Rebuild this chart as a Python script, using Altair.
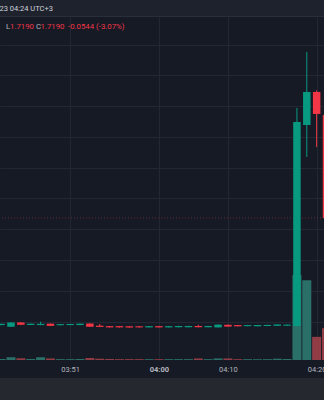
import altair as alt
import pandas as pd

# ---------------- data ----------------
idx = list(range(-1, 33))
opens = [0.977, 0.966, 0.994, 0.978, 0.977, 0.986, 0.976, 0.977, 0.977, 0.987,
         0.973, 0.970, 0.970, 0.969, 0.969, 0.962, 0.970, 0.962, 0.963, 0.963,
         0.971, 0.963, 0.962, 0.979, 0.977, 0.970, 0.970, 0.971, 0.972, 0.973,
         0.971, 2.277, 2.492, 2.342]
highs = [0.987, 0.996, 0.996, 0.987, 0.999, 0.987, 0.984, 0.985, 0.987, 0.988,
         0.984, 0.971, 0.971, 0.970, 0.970, 0.971, 0.971, 0.971, 0.972, 0.972,
         0.979, 0.972, 0.981, 0.980, 0.978, 0.978, 0.978, 0.979, 0.982, 0.981,
         2.388, 2.752, 2.502, 2.345]
lows = [0.975, 0.964, 0.977, 0.977, 0.976, 0.970, 0.975, 0.976, 0.976, 0.965,
        0.964, 0.961, 0.961, 0.960, 0.961, 0.961, 0.961, 0.961, 0.962, 0.962,
        0.962, 0.962, 0.961, 0.966, 0.968, 0.969, 0.969, 0.970, 0.971, 0.972,
        0.969, 2.069, 2.134, 1.673]
closes = [0.985, 0.994, 0.979, 0.986, 0.985, 0.972, 0.983, 0.984, 0.986, 0.966,
          0.965, 0.962, 0.962, 0.961, 0.962, 0.970, 0.962, 0.970, 0.971, 0.971,
          0.963, 0.971, 0.980, 0.967, 0.969, 0.977, 0.977, 0.978, 0.981, 0.980,
          2.297, 2.492, 2.349, 1.673]
volumes = [1200, 3200, 2000, 1200, 3200, 1800, 1000, 1000, 1200, 2300,
           1500, 1200, 1000, 1000, 1000, 1000, 1000, 1000, 1000, 1000,
           1800, 1000, 1800, 1800, 1000, 1000, 1000, 1000, 1500, 1200,
           99000, 93000, 27000, 37000]

tick_idx = [6, 15, 22, 31]
tick_lbl = ["03:51", "04:00", "04:10", "04:20"]
bold_ticks = [15]
grid_prices = [1.0, 1.2, 1.4, 1.6, 1.8, 2.0, 2.2, 2.4, 2.6, 2.8]
last_price = [1.673]

header_text = "23 04:24 UTC+3"
legend_parts = ["L", "1.7190", "C", "1.7190", "-0.0544 (-3.07%)"]

# ---------------- style ----------------
BG = "#161a25"
HEADER = "#1e222d"
BOTTOM = "#25282f"
GRID = "#232734"
GREEN = "#089981"
RED = "#f23645"
VGREEN = "#2a7069"
VRED = "#923c46"
TEXT = "#b2b5be"
FONT = "Roboto"

W, H = 324, 343

df = pd.DataFrame(dict(i=idx, open=opens, high=highs, low=lows,
                       close=closes, volume=volumes))

label_expr = "''"
for t, l in zip(reversed(tick_idx), reversed(tick_lbl)):
    label_expr = f"datum.value == {t} ? '{l}' : ({label_expr})"
bold_test = " || ".join(f"datum.value == {b}" for b in bold_ticks)

x_axis = alt.Axis(values=tick_idx, labelExpr=label_expr, title=None,
                  grid=True, gridColor=GRID, gridWidth=1,
                  ticks=False, tickSize=0, domain=False,
                  labelColor=TEXT, labelFont=FONT, labelFontSize=7.5,
                  labelFontWeight={"condition": {"test": bold_test, "value": "bold"},
                                   "value": "normal"},
                  labelBaseline="middle", labelPadding=9.5,
                  labelFlush=False, labelOverlap=False, labelBound=False)
x_scale = alt.Scale(domain=[-1.1156, 31.745], nice=False, zero=False, padding=0)
X = alt.X("i:Q", scale=x_scale, axis=x_axis)

price_scale = alt.Scale(domain=[0.75, 2.979], nice=False, zero=False)
price_axis = alt.Axis(values=grid_prices, grid=True, gridColor=GRID, gridWidth=1,
                      labels=False, ticks=False, domain=False, title=None)

up = "datum.close >= datum.open"

vol = alt.Chart(df).mark_bar(size=9).encode(
    x=X,
    y=alt.Y("volume:Q", scale=alt.Scale(domain=[0, 400000], nice=False), axis=None),
    color=alt.condition(up, alt.value(VGREEN), alt.value(VRED)),
)

pline = alt.Chart(pd.DataFrame({"p": last_price})).mark_rule(
    color="#a0303d", strokeDash=[1, 2], opacity=0.6, strokeWidth=1
).encode(y=alt.Y("p:Q", scale=price_scale, axis=price_axis))

wick = alt.Chart(df).mark_rule(strokeWidth=1).encode(
    x=X,
    y=alt.Y("low:Q", scale=price_scale, axis=price_axis),
    y2="high:Q",
    color=alt.condition(up, alt.value(GREEN), alt.value(RED)),
)
body = alt.Chart(df).mark_bar(size=7.5).encode(
    x=X,
    y=alt.Y("open:Q", scale=price_scale, axis=price_axis),
    y2="close:Q",
    color=alt.condition(up, alt.value(GREEN), alt.value(RED)),
)
price = alt.layer(pline, wick, body)

one = alt.Data(values=[{}])
header_rect = alt.Chart(one).mark_rect(color=HEADER).encode(
    x=alt.value(0), x2=alt.value(W), y=alt.value(-17), y2=alt.value(-0.5))
header_line = alt.Chart(one).mark_rule(color="#2a2e39", strokeWidth=1).encode(
    x=alt.value(0), x2=alt.value(W), y=alt.value(-0.5))
header_txt = alt.Chart(one).mark_text(
    text=header_text, align="left", baseline="middle", color="#d1d4dc",
    font=FONT, fontSize=7.5).encode(x=alt.value(-0.5), y=alt.value(-8.5))
bottom_rect = alt.Chart(one).mark_rect(color=BOTTOM).encode(
    x=alt.value(0), x2=alt.value(W), y=alt.value(361), y2=alt.value(384))

leg_x = [6, 10, 36, 40.5, 68]
leg_col = [TEXT, RED, TEXT, RED, RED]
legend_layers = [
    alt.Chart(one).mark_text(text=t, align="left", baseline="middle", color=c,
                             font=FONT, fontSize=7.8).encode(
        x=alt.value(xx), y=alt.value(10))
    for t, c, xx in zip(legend_parts, leg_col, leg_x)
]

chart = alt.layer(
    vol, price, header_rect, header_line, header_txt, bottom_rect, *legend_layers
).resolve_scale(y="independent").properties(
    width=W, height=H,
    autosize=alt.AutoSizeParams(type="none"),
    padding={"left": 0, "top": 17, "right": 0, "bottom": 40},
    background=BG,
).configure_view(stroke=None, fill=BG)

chart.save("out.html", embed_options={"renderer": "svg", "actions": False})
